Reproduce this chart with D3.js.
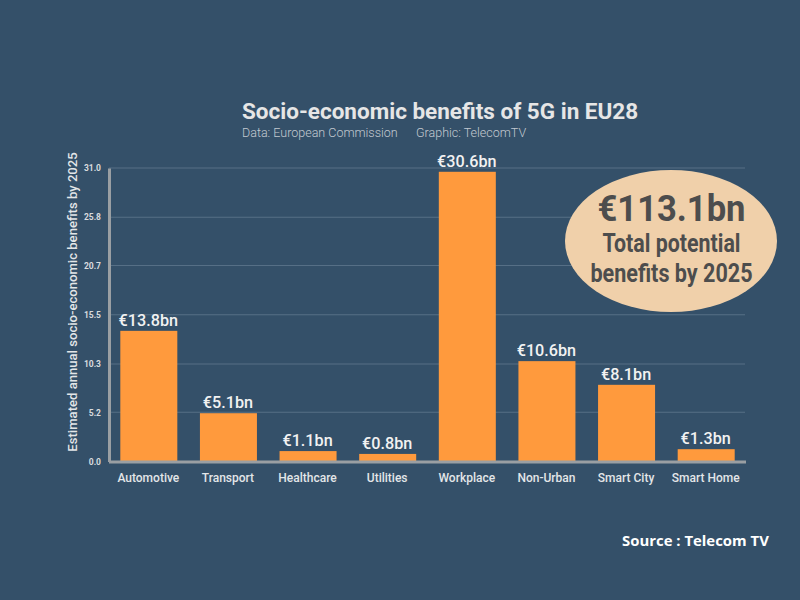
<!DOCTYPE html>
<html>
<head>
  <meta charset="utf-8">
  <script src="https://d3js.org/d3.v7.min.js"></script>
  <style>
    html, body { margin: 0; padding: 0; background: #345069; }
    svg { display: block; }
    text { font-family: Roboto, sans-serif; }
  </style>
</head>
<body>
<svg id="chart"></svg>
<script>
  var w = 800;
  var h = 600;

  var categories = ["Automotive", "Transport", "Healthcare", "Utilities", "Workplace", "Non-Urban", "Smart City", "Smart Home"];
  var values = [13.8, 5.1, 1.1, 0.8, 30.6, 10.6, 8.1, 1.3];
  var yTicks = [0, 5.2, 10.3, 15.5, 20.7, 25.8, 31];

  var svg = d3.select("#chart").attr("width", w).attr("height", h);

  var xScale = d3.scaleBand().domain(categories).range([109, 746])
    .paddingInner(0.284).paddingOuter(0.142);
  var yScale = d3.scaleLinear().domain([0, 31]).range([461.5, 168]);

  // grid lines
  svg.append("g").selectAll("line").data(yTicks.slice(1)).enter().append("line")
    .attr("x1", 109).attr("x2", 745)
    .attr("y1", function(d) { return yScale(d); })
    .attr("y2", function(d) { return yScale(d); })
    .attr("stroke", "#566f86").attr("stroke-width", 1.2);

  // y axis
  var yAxis = d3.axisLeft(yScale).tickValues(yTicks).tickSize(0).tickPadding(8)
    .tickFormat(d3.format(".1f"));
  var gy = svg.append("g").attr("transform", "translate(109,0)").call(yAxis);
  gy.select(".domain").attr("stroke", "#9a9fa3").attr("stroke-width", 3);
  gy.selectAll("text").attr("font-size", 8.5).attr("font-weight", 700)
    .attr("fill", "#d9dcdf").style("font-family", "Roboto, sans-serif");

  // bars
  svg.append("g").selectAll("rect").data(values).enter().append("rect")
    .attr("x", function(d, i) { return xScale(categories[i]); })
    .attr("y", function(d) { return yScale(d); })
    .attr("width", xScale.bandwidth())
    .attr("height", function(d) { return yScale(0) - yScale(d); })
    .attr("fill", "#ff9a3d");

  // x axis
  var xAxis = d3.axisBottom(xScale).tickSize(0).tickPadding(12);
  var gx = svg.append("g").attr("transform", "translate(-0.5,461.5)").call(xAxis);
  gx.select(".domain").attr("stroke", "#9a9fa3").attr("stroke-width", 3);
  gx.selectAll("text").attr("font-size", 12).attr("font-weight", 500)
    .attr("fill", "#e3e6e8").style("font-family", "Roboto, sans-serif");

  // value labels
  svg.append("g").selectAll("text").data(values).enter().append("text")
    .attr("x", function(d, i) { return xScale(categories[i]) + xScale.bandwidth() / 2 - 0.5; })
    .attr("y", function(d) { return yScale(d) - 5; })
    .attr("text-anchor", "middle")
    .attr("font-size", 16.2).attr("font-weight", 500).attr("fill", "#f2f2f2")
    .text(function(d) { return "€" + d3.format(".1f")(d) + "bn"; });

  // y axis title
  svg.append("text")
    .attr("transform", "translate(77,302) rotate(-90)")
    .attr("text-anchor", "middle")
    .attr("font-size", 13.1).attr("font-weight", 500).attr("fill", "#e3e6e8")
    .text("Estimated annual socio-economic benefits by 2025");

  // title
  svg.append("text").attr("x", 242).attr("y", 119)
    .attr("font-size", 22.5).attr("font-weight", 700).attr("fill", "#e6e6e6")
    .text("Socio-economic benefits of 5G in EU28");
  svg.append("text").attr("x", 242).attr("y", 137)
    .attr("font-size", 12.5).attr("font-weight", 300).attr("fill", "#c3cad1")
    .text("Data: European Commission");
  svg.append("text").attr("x", 416).attr("y", 137)
    .attr("font-size", 12.5).attr("font-weight", 300).attr("fill", "#c3cad1")
    .text("Graphic: TelecomTV");

  // total callout
  svg.append("ellipse").attr("cx", 671).attr("cy", 241).attr("rx", 106).attr("ry", 71)
    .attr("fill", "#f0d0aa");
  var calloutLines = ["€113.1bn", "Total potential", "benefits by 2025"];
  var calloutY = [221, 252, 282];
  var calloutSize = [37, 26, 26];
  var calloutLen = [148, 138, 162];
  svg.append("g").selectAll("text").data(calloutLines).enter().append("text")
    .attr("x", 671.5)
    .attr("y", function(d, i) { return calloutY[i]; })
    .attr("text-anchor", "middle")
    .attr("font-size", function(d, i) { return calloutSize[i]; })
    .attr("font-weight", 700).attr("fill", "#4d4d4d")
    .attr("textLength", function(d, i) { return calloutLen[i]; })
    .attr("lengthAdjust", "spacingAndGlyphs")
    .text(function(d) { return d; });

  // source
  svg.append("text").attr("x", 622).attr("y", 546)
    .style("font-family", "'Open Sans', sans-serif")
    .attr("font-size", 14.9).attr("font-weight", 700).attr("fill", "#ffffff")
    .text("Source : Telecom TV");
</script>
</body>
</html>
